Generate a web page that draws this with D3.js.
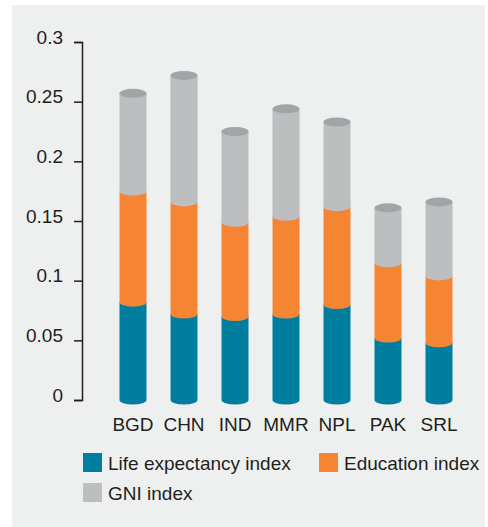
<!DOCTYPE html>
<html>
<head>
<meta charset="utf-8">
<script src="https://cdn.jsdelivr.net/npm/d3@7"></script>
<style>
  body { margin: 0; background: #ffffff; }
  text { font-family: "Liberation Sans", Arial, sans-serif; fill: #231f20; }
</style>
</head>
<body>
<svg id="grafico" width="488" height="527"></svg>
<script>
const countries = ["BGD", "CHN", "IND", "MMR", "NPL", "PAK", "SRL"];
const lifeExpectancy = [0.082, 0.072, 0.070, 0.072, 0.080, 0.052, 0.048];
const education = [0.093, 0.094, 0.079, 0.082, 0.082, 0.063, 0.056];
const gni = [0.082, 0.106, 0.076, 0.090, 0.071, 0.046, 0.062];
const seriesNames = ["Life expectancy index", "Education index", "GNI index"];
const yTicks = [0, 0.05, 0.1, 0.15, 0.2, 0.25, 0.3];
const yTickLabels = ["0", "0.05", "0.1", "0.15", "0.2", "0.25", "0.3"];

const colors = ["#007ea0", "#f58532", "#bcbec0"];
const capColor = "#a2a4a7";

const svg = d3.select("#grafico");

// panel de fondo
svg.append("rect")
  .attr("x", 12).attr("y", 5)
  .attr("width", 473).attr("height", 522)
  .attr("fill", "#eef0ef");

const x = d3.scalePoint().domain(countries).range([133, 439]);
const y = d3.scaleLinear().domain([0, 0.3]).range([400, 42]);

const barW = 27;
const ry = 4.5;

const rows = countries.map((c, i) => ({
  country: c,
  [seriesNames[0]]: lifeExpectancy[i],
  [seriesNames[1]]: education[i],
  [seriesNames[2]]: gni[i]
}));

const stacked = d3.stack().keys(seriesNames)(rows);

// cilindros: cada segmento es rect + media elipse inferior
function segPath(d, cx) {
  const x0 = cx - barW / 2, x1 = cx + barW / 2;
  const yb = y(d[0]), yt = y(d[1]);
  return `M${x0},${yt} L${x1},${yt} L${x1},${yb} A${barW / 2},${ry} 0 0 1 ${x0},${yb} Z`;
}

stacked.forEach((layer, s) => {
  svg.append("g")
    .selectAll("path")
    .data(layer)
    .join("path")
    .attr("d", d => segPath(d, x(d.data.country)))
    .attr("fill", colors[s]);
});

const topLayer = stacked[stacked.length - 1];
svg.append("g")
  .selectAll("ellipse")
  .data(topLayer)
  .join("ellipse")
  .attr("cx", d => x(d.data.country))
  .attr("cy", d => y(d[1]))
  .attr("rx", barW / 2)
  .attr("ry", ry)
  .attr("fill", capColor);

// eje Y
const yAxis = d3.axisLeft(y)
  .tickValues(yTicks)
  .tickFormat((d, i) => yTickLabels[i])
  .tickSize(8)
  .tickPadding(11);

const gy = svg.append("g")
  .attr("transform", "translate(82,0)")
  .call(yAxis);
gy.select(".domain").attr("stroke", "#231f20").attr("stroke-width", 1.5);
gy.selectAll(".tick line").attr("stroke", "#231f20").attr("stroke-width", 1.5);
gy.selectAll(".tick text")
  .attr("dy", "0")
  .attr("y", 1)
  .style("font-size", "19px")
  .style("font-family", "'Liberation Sans', Arial, sans-serif")
  .attr("fill", "#231f20");

// etiquetas X
svg.append("g")
  .selectAll("text")
  .data(countries)
  .join("text")
  .attr("x", d => x(d))
  .attr("y", 431)
  .attr("text-anchor", "middle")
  .style("font-size", "19px")
  .text(d => d);

// leyenda
const legendPos = [[83, 453], [319, 453], [83, 483]];
const lg = svg.append("g")
  .selectAll("g")
  .data(seriesNames)
  .join("g")
  .attr("transform", (d, i) => `translate(${legendPos[i][0]},${legendPos[i][1]})`);
lg.append("rect")
  .attr("width", 19).attr("height", 19)
  .attr("fill", (d, i) => colors[i]);
lg.append("text")
  .attr("x", 25)
  .attr("y", 17)
  .style("font-size", "19px")
  .text(d => d);
</script>
</body>
</html>
